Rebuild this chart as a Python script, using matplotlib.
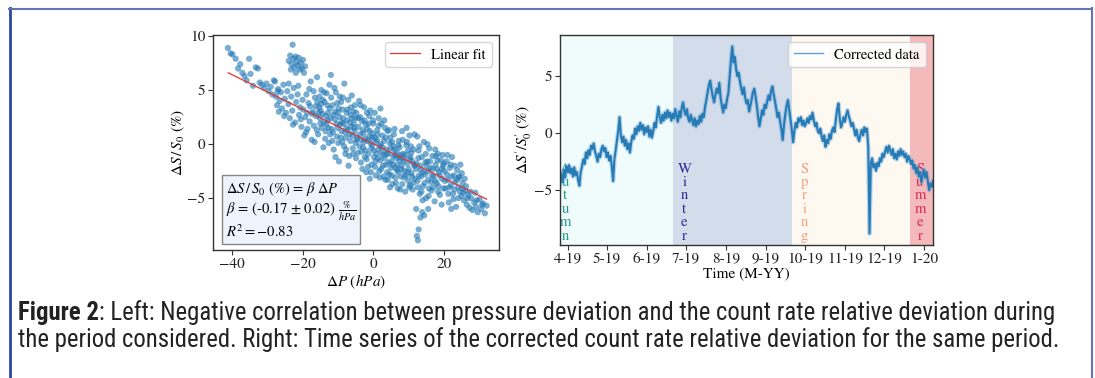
import numpy as np
import pandas as pd
import matplotlib
matplotlib.use('Agg')
import matplotlib.pyplot as plt
import matplotlib.dates as mdates
from matplotlib.lines import Line2D
from matplotlib import font_manager as fm

# ---------------- data ----------------
scatter_x = [
 -41.1,-40.3,-39.8,-38.9,-38.2,-37.6,-37.0,-36.4,-35.8,-35.1,-34.7,-34.0,-33.2,-32.6,-32.1,-31.5,-30.8,-30.2,-29.6,-29.0,-28.5,-28.1,
 -23.9,-23.5,-23.1,-22.8,-22.6,-22.3,-22.0,-21.7,-21.4,-21.1,-20.8,-20.5,-20.2,-19.9,-19.6,-19.3,-23.3,-21.9,
 -27.8,-27.5,-27.2,-26.9,-26.5,-26.1,-25.8,-25.4,-25.0,-24.7,-24.3,-24.0,-23.6,-23.2,-22.9,-22.5,-22.1,-21.8,-21.4,-21.0,-20.7,-20.3,-20.0,-26.7,-25.2,-23.9,-22.7,-21.2,-20.5,-27.0,
 -19.8,-19.5,-19.2,-18.9,-18.6,-18.3,-18.0,-17.7,-17.4,-17.1,-16.8,-16.5,-16.2,-15.9,-15.6,-15.3,-15.0,-14.7,-14.4,-14.1,-13.8,-13.5,-13.2,-12.9,-12.6,-12.3,-12.0,-19.0,-18.1,-17.3,-16.6,-15.8,-15.1,-14.3,-13.6,-12.8,-17.9,-16.0,-14.9,-13.3,-12.4,-18.7,-16.9,-14.6,-13.0,
 -11.8,-11.5,-11.2,-10.9,-10.6,-10.3,-10.0,-9.7,-9.4,-9.1,-8.8,-8.5,-8.2,-7.9,-7.6,-7.3,-7.0,-6.7,-6.4,-6.1,-5.8,-5.5,-5.2,-4.9,-4.6,-4.3,-4.0,-11.6,-11.0,-10.4,-9.8,-9.2,-8.6,-8.0,-7.4,-6.8,-6.2,-5.6,-5.0,-4.4,-10.7,-9.5,-8.3,-7.1,-6.0,-4.8,-11.3,-8.9,-6.5,-5.3,
 -3.8,-3.5,-3.2,-2.9,-2.6,-2.3,-2.0,-1.7,-1.4,-1.1,-0.8,-0.5,-0.2,0.1,0.4,0.7,1.0,1.3,1.6,1.9,2.2,2.5,2.8,3.1,3.4,3.7,4.0,-3.6,-3.0,-2.4,-1.8,-1.2,-0.6,0.0,0.6,1.2,1.8,2.4,3.0,3.6,-3.3,-2.7,-2.1,-1.5,-0.9,-0.3,0.3,0.9,1.5,2.1,2.7,3.3,3.9,-1.0,2.0,
 4.2,4.5,4.8,5.1,5.4,5.7,6.0,6.3,6.6,6.9,7.2,7.5,7.8,8.1,8.4,8.7,9.0,9.3,9.6,9.9,10.2,10.5,10.8,11.1,11.4,11.7,4.4,5.0,5.6,6.2,6.8,7.4,8.0,8.6,9.2,9.8,10.4,11.0,11.6,4.7,5.9,7.0,8.2,9.4,10.6,11.8,5.3,6.5,7.7,10.0,
 12.2,12.5,12.8,13.1,13.4,13.7,14.0,14.3,14.6,14.9,15.2,15.5,15.8,16.1,16.4,16.7,17.0,17.3,17.6,17.9,18.2,18.5,18.8,19.1,19.4,19.7,12.9,13.9,14.8,15.7,16.6,17.5,18.4,19.3,12.4,13.5,15.0,16.3,18.0,19.5,
 12.3,12.6,12.8,13.3,13.8,14.4,12.1,15.5,
 20.1,20.4,20.7,21.0,21.3,21.6,21.9,22.2,22.5,22.8,23.1,23.4,23.7,24.0,24.3,24.6,24.9,25.2,25.6,26.0,26.4,26.8,27.2,27.6,28.0,28.5,29.0,29.5,30.0,30.5,31.0,31.5,32.0,20.9,22.0,23.0,24.2,25.0,26.2,28.8,
 -15.5,-14.8,-14.0,-13.4,-12.7,-12.1,-11.4,-10.8,-10.1,-9.6,-9.0,-8.4,-7.8,-7.2,-6.6,-5.9,-5.4,-4.7,-4.2,-15.2,-13.9,-11.9,-10.2,-8.7,-7.5,-6.3,-5.1,-16.3,-12.2,-9.9,-7.7,-5.7,
 -3.9,-3.4,-2.8,-2.2,-1.6,-1.0,-0.4,0.2,0.8,1.4,2.0,2.6,3.2,3.8,4.3,4.9,5.5,6.1,6.7,7.3,7.9,8.5,9.1,9.7,10.3,10.9,11.5,-3.7,-2.5,-1.3,-0.1,1.1,2.3,3.5,4.6,5.8,7.1,8.3,9.5,10.7,-3.1,-1.9,-0.7,0.5,1.7,2.9,4.1,5.2,6.4,7.6,8.8,10.1,11.3,
 12.0,12.7,13.3,14.1,14.7,15.4,16.0,16.8,17.4,18.1,18.7,19.4,20.2,20.8,21.5,22.1,22.9,23.6,24.4,25.1,25.8,12.6,13.6,14.5,15.6,16.9,18.3,19.8,21.2,22.6,24.0,25.4,26.6,27.4,29.2,30.7,13.0,15.3,17.7,19.9,21.8]
scatter_y = [
 8.9,8.4,8.3,7.9,7.0,7.4,6.6,6.3,5.9,7.9,6.5,5.4,7.1,7.0,5.7,5.5,5.2,5.6,4.9,5.3,4.6,5.9,
 7.7,8.2,7.4,9.2,7.9,7.1,8.1,7.6,7.3,8.0,6.9,7.5,7.0,7.8,6.6,7.2,6.9,6.6,
 5.8,4.4,3.6,5.1,4.0,4.8,3.3,5.5,4.2,2.9,4.9,3.7,2.4,4.4,3.1,5.2,2.0,3.9,4.6,2.7,3.4,1.6,4.1,3.0,2.6,5.6,1.8,5.4,2.3,4.9,
 3.2,0.8,2.5,4.6,1.4,3.8,2.1,5.8,0.4,3.0,1.7,4.3,2.6,6.2,0.9,3.4,1.9,5.0,2.8,-0.3,3.9,1.2,4.7,2.2,0.1,3.3,6.4,1.1,5.1,2.8,0.2,3.9,2.4,4.1,0.5,2.9,3.5,1.3,3.1,1.8,5.5,2.9,4.9,1.5,3.6,
 1.4,3.6,-0.5,2.3,4.8,0.7,2.9,-1.6,1.8,3.9,0.2,2.4,5.6,-0.9,1.5,3.2,-2.0,0.9,2.7,4.5,-0.4,1.9,3.6,-1.3,0.6,2.4,4.0,0.3,5.2,1.9,3.3,0.6,4.3,1.1,2.2,-1.1,1.6,3.0,0.1,-0.8,-1.2,4.4,-0.2,4.1,2.4,2.9,2.7,2.0,0.3,1.2,
 0.9,-1.7,2.1,-0.3,3.4,0.5,-2.6,1.4,-0.9,2.6,0.1,-1.9,1.0,-0.6,2.9,-2.9,0.4,-1.3,1.7,-0.2,-2.3,0.8,-1.0,2.2,-3.3,-0.5,1.2,3.6,1.3,-1.2,2.9,0.7,-0.4,1.9,-1.6,0.9,-3.1,-0.8,0.3,-1.9,-0.7,0.2,1.8,-2.1,3.1,-0.1,0.6,-0.9,2.4,0.0,-2.0,1.5,-2.6,-3.2,3.3,
 -0.9,-2.8,0.6,-1.6,-3.7,-0.2,1.4,-2.2,-0.7,-4.1,0.3,-1.5,-3.0,1.2,-0.9,-2.5,-4.4,-0.1,-1.8,-3.4,0.8,-1.2,-2.7,-4.2,-0.5,-2.0,1.3,-2.2,-1.1,-3.1,-1.9,-0.3,-2.0,-1.3,-2.9,-0.6,-3.8,-1.6,0.9,-4.0,-0.5,-2.6,-3.7,1.5,-0.2,-3.2,0.2,-1.3,-1.0,-2.3,
 -1.8,-3.4,-0.6,-4.6,-2.4,-1.2,-3.9,0.2,-2.8,-5.0,-1.6,-3.3,-0.4,-2.2,-4.3,-1.1,-3.0,-5.3,-1.9,-3.6,-0.9,-2.6,-4.7,-1.5,-3.2,-2.0,-2.9,-5.2,-0.9,-4.1,-2.9,-0.5,-3.9,-5.6,0.7,-3.0,-2.0,-3.5,-2.3,-1.0,
 -8.5,-8.9,-7.9,-6.8,-6.3,-6.6,-6.0,-6.0,
 -2.5,-4.1,-1.6,-3.3,-5.4,-2.2,-3.8,-1.2,-4.6,-2.9,-3.5,-5.8,-2.4,-4.0,-3.0,-1.9,-4.8,-3.6,-5.2,-4.3,-5.6,-4.7,-5.9,-5.0,-6.1,-5.4,-5.8,-6.3,-5.1,-6.0,-5.5,-6.4,-5.7,-1.0,-6.0,-2.0,-3.1,-2.7,-3.9,-4.5,
 2.9,3.7,2.0,2.6,1.5,2.4,1.1,3.0,1.5,2.5,1.2,1.9,0.6,1.3,2.0,0.8,1.5,0.4,1.6,4.4,4.8,4.3,3.8,3.2,2.9,3.4,2.4,3.5,0.9,0.1,-0.5,-0.9,
 -0.2,0.4,1.0,-0.6,0.3,1.2,0.6,-1.2,0.2,-0.5,-1.5,-0.3,-1.3,-0.9,-1.7,-0.4,-1.9,-1.0,-2.4,-1.2,-2.3,-1.6,-1.0,-2.6,-1.4,-3.0,-1.9,2.5,2.2,1.9,2.2,1.3,1.9,0.6,0.1,0.9,-0.1,0.4,0.2,-0.8,-2.3,-1.4,-2.6,-2.1,-2.5,-3.0,-3.3,-2.9,-3.6,-4.2,-3.1,-4.0,-3.6,
 -2.3,-1.3,-2.0,-2.6,-1.7,-2.5,-1.6,-2.3,-3.4,-1.5,-2.9,-2.3,-3.4,-2.8,-4.0,-3.0,-4.2,-3.3,-4.4,-4.1,-3.2,-4.0,-4.4,-3.6,-4.8,-4.0,-4.4,-4.1,-4.6,-5.1,-5.0,-4.5,-5.0,-4.4,-5.2,-5.6,-0.2,0.0,-1.1,-1.8,-1.9]

fit_x = [-41.0, 32.0]
fit_y = [6.6, -5.1]

ts_start = '2019-03-26'
ts_vals = [
 -4.6,-3.6,-4.3,-3.2,-3.9,-2.9,-3.4,-2.8,
 -3.5,-3.1,-3.8,-3.0,-3.7,-3.4,-4.1,-4.6,
 -3.4,-2.9,-2.3,-2.7,-1.7,-2.2,-1.5,-1.9,-1.1,-1.4,
 -0.9,-1.6,-2.0,-2.5,-1.8,-2.1,-1.4,-1.1,
 -1.6,-1.3,-2.1,-1.7,-2.4,-2.0,-2.9,-4.2,
 -2.3,-1.5,-0.6,0.2,1.4,-0.2,-0.8,-0.3,
 -1.1,-0.6,-1.4,-0.9,-1.7,-0.8,-0.2,-0.5,0.4,
 -0.1,0.6,0.2,0.9,0.3,0.7,-0.1,0.5,0.1,
 0.6,-0.3,0.3,-0.4,0.2,0.9,0.5,1.5,2.3,
 1.4,0.9,1.6,1.1,1.8,1.3,2.0,1.4,1.8,
 1.1,1.7,1.3,2.1,1.5,1.0,1.9,1.4,2.2,2.7,
 2.0,1.6,2.1,1.3,1.0,1.6,1.2,0.7,1.3,0.6,1.1,0.8,1.5,1.0,1.7,
 1.4,2.3,2.9,3.6,4.2,4.6,
 3.8,3.2,2.7,3.4,3.9,3.5,4.4,3.1,2.4,1.8,
 2.5,2.2,3.0,3.5,5.0,6.4,7.6,6.2,6.7,5.6,5.0,
 5.3,4.5,3.9,3.4,4.0,3.1,2.6,2.9,1.9,2.4,3.0,3.6,3.9,
 3.2,2.4,1.4,0.6,1.3,2.0,1.6,2.5,2.2,
 2.8,3.3,2.9,3.7,4.1,3.4,2.8,2.1,1.4,1.8,1.0,0.3,-0.6,
 0.8,1.7,2.4,2.9,2.0,1.2,0.3,-0.8,
 0.2,0.9,0.5,1.3,1.0,1.4,0.7,1.1,0.6,0.9,
 1.3,0.9,1.5,1.2,1.8,1.1,0.6,0.9,0.2,0.0,
 0.4,-0.3,-0.7,-0.2,-1.2,-0.6,-0.9,-0.1,-0.5,0.2,0.5,
 0.1,1.2,2.1,2.6,1.3,0.5,0.9,1.4,1.0,1.6,2.0,
 1.5,1.1,0.6,0.9,0.4,-0.2,0.3,-0.4,-0.7,-0.1,0.3,-0.2,0.5,0.1,0.4,-1.2,
 -8.8,
 -2.6,-2.2,-3.0,-2.7,-3.3,-2.6,-2.9,-2.2,-2.5,-1.8,-2.1,
 -1.6,-1.2,-1.7,-1.1,-1.5,-1.9,-1.4,-2.2,-1.8,-2.3,-1.6,-2.0,-1.4,-1.9,-1.6,-2.1,-1.8,-2.5,-2.0,-2.3,
 -2.7,-2.4,-3.1,-2.8,-3.5,-3.0,-3.8,-3.4,-4.3,-3.7,-3.2,-3.9,-3.4,-4.2,-5.0,-4.4,-4.7,-4.2]

season_names = ['Autumn', 'Winter', 'Spring', 'Summer']
season_starts = ['2019-03-01', '2019-06-21', '2019-09-21', '2019-12-21']
season_ends = ['2019-06-21', '2019-09-21', '2019-12-21', '2020-03-01']
season_label_dates = ['2019-03-30', '2019-06-30', '2019-10-01', '2019-12-29']
season_fill = ['#f0fbfb', '#d3dcea', '#fdf9f1', '#f4b9ba']
season_text = ['#1f9a8c', '#2a2a96', '#f4a07a', '#d62a52']

caption_bold = 'Figure 2'
caption_line1 = ': Left: Negative correlation between pressure deviation and the count rate relative deviation during'
caption_line2 = 'the period considered. Right: Time series of the corrected count rate relative deviation for the same period.'

# ---------------- figure ----------------
W, H = 1095, 378
plt.rcParams['font.family'] = ['STIXGeneral', 'DejaVu Serif']
plt.rcParams['mathtext.fontset'] = 'stix'
plt.rcParams['font.size'] = 11
plt.rcParams['axes.edgecolor'] = '#333333'
plt.rcParams['xtick.color'] = '#333333'
plt.rcParams['ytick.color'] = '#333333'
plt.rcParams['xtick.labelcolor'] = '#222222'
plt.rcParams['ytick.labelcolor'] = '#222222'

fig = plt.figure(figsize=(W / 100, H / 100), dpi=100)
fig.patch.set_facecolor('white')

# Left panel
ax1 = fig.add_axes([213 / W, 1 - 250 / H, (499 - 213) / W, (250 - 35) / H])
ax1.scatter(scatter_x, scatter_y, s=20, color='#1f77b4', alpha=0.6,
            edgecolors='none', zorder=2)
ax1.plot(fit_x, fit_y, color='#e3342f', lw=0.9, label='Linear fit', zorder=3)
ax1.set_xlim(-45.3, 35.5)
ax1.set_ylim(-9.8, 10.1)
ax1.set_xticks([-40, -20, 0, 20])
ax1.set_yticks([-5, 0, 5, 10])
ax1.set_xlabel(r'$\Delta P\ (hPa)$', labelpad=1)
ax1.set_ylabel(r'$\Delta S\,/\,S_0$ (%)', labelpad=0)
ax1.legend(loc='upper right', fontsize=10.5, handlelength=2.0)
ax1.text(0.045, 0.045,
         '$\\Delta S\\,/\\,S_0$ (%) = $\\beta\\ \\Delta P$\n'
         '$\\beta$ = (-0.17 $\\pm$ 0.02) $\\frac{\\%}{hPa}$\n'
         '$R^2 = -0.83$',
         transform=ax1.transAxes, ha='left', va='bottom', fontsize=10.5,
         linespacing=1.05, zorder=5,
         bbox=dict(boxstyle='square,pad=0.25', fc='#eef4fb', ec='#888888', lw=1))

# Right panel
ax2 = fig.add_axes([560 / W, 1 - 245 / H, (933 - 560) / W, (245 - 35) / H])
dates = pd.date_range(ts_start, periods=len(ts_vals), freq='D')
x0 = pd.Timestamp('2019-03-26')
x1 = pd.Timestamp('2020-01-08')
for name, s, e, ld, fc, tc in zip(season_names, season_starts, season_ends,
                                  season_label_dates, season_fill, season_text):
    ax2.axvspan(pd.Timestamp(s), pd.Timestamp(e), color=fc, lw=0, zorder=0)
    ax2.text(pd.Timestamp(ld), -2.55, '\n'.join(name), color=tc, ha='center',
             va='top', fontsize=10.5, linespacing=1.0, zorder=1)
ax2.plot(dates, ts_vals, color='#6fa8d6', lw=3.2, alpha=0.45, zorder=2)
ax2.plot(dates, ts_vals, color='#1f77b4', lw=1.5, alpha=0.95,
         label='Corrected data', zorder=2)
ax2.set_xlim(x0, x1)
ax2.set_ylim(-9.8, 8.6)
ax2.set_yticks([-5, 0, 5])
ax2.xaxis.set_major_locator(mdates.MonthLocator())
ax2.xaxis.set_major_formatter(mdates.DateFormatter('%-m-%y'))
ax2.set_xlabel('Time (M-YY)', labelpad=1)
ax2.set_ylabel(r"$\Delta S^{\prime}/S_0^{\prime}$ (%)", labelpad=0)
leg2 = ax2.legend(loc='upper right', fontsize=10.5, handlelength=2.0)
leg2.get_lines()[0].set_color('#5b9bd0')
leg2.get_lines()[0].set_linewidth(1.0)
leg2.set_zorder(6)

for ax in (ax1, ax2):
    ax.tick_params(labelsize=11, length=3.5, width=0.8, pad=2)
    for sp in ax.spines.values():
        sp.set_linewidth(1.0)

# Frame
fig.add_artist(Line2D([9.5 / W, 9.5 / W], [0, 1 - 8 / H], transform=fig.transFigure,
                      color='#2a48a6', lw=2.0))
fig.add_artist(Line2D([9 / W, 1092 / W], [1 - 8.5 / H, 1 - 8.5 / H],
                      transform=fig.transFigure, color='#6373b8', lw=1.5))
fig.add_artist(Line2D([1091.5 / W, 1091.5 / W], [0, 1 - 8 / H],
                      transform=fig.transFigure, color='#6373b8', lw=1.5))

# Caption
names = {f.name for f in fm.fontManager.ttflist}
cap_family = 'DejaVu Sans'
for cand in ['Liberation Sans Narrow', 'Roboto Condensed', 'Roboto', 'Lato']:
    if cand in names:
        cap_family = cand
        break

fig.canvas.draw()
rend = fig.canvas.get_renderer()
fs = 12.0
tb = fig.text(18 / W, 1 - 313 / H, caption_bold, fontsize=fs, fontweight='bold',
              family=cap_family, va='center', ha='left', color='#222222')
t1 = fig.text(0, 1 - 313 / H, caption_line1, fontsize=fs, family=cap_family,
              va='center', ha='left', color='#222222')
wb = tb.get_window_extent(rend).width
w1 = t1.get_window_extent(rend).width
scale = (1052 - 18) / (wb + w1)
fs = fs * scale
tb.set_fontsize(fs)
t1.set_fontsize(fs)
wb = tb.get_window_extent(rend).width
t1.set_x((18 + wb) / W)
fig.text(18 / W, 1 - 340 / H, caption_line2, fontsize=fs, family=cap_family,
         va='center', ha='left', color='#222222')

fig.savefig('out.png', dpi=100)
